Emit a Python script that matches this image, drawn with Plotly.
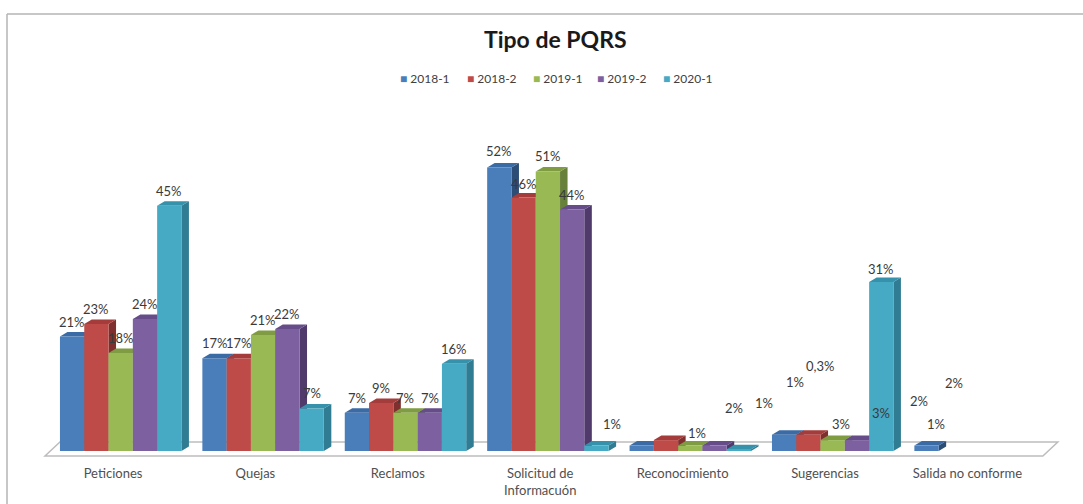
import plotly.graph_objects as go

categories = ["Peticiones", "Quejas", "Reclamos", "Solicitud de<br>Informacuón",
              "Reconocimiento", "Sugerencias", "Salida no conforme"]
series_names = ["2018-1", "2018-2", "2019-1", "2019-2", "2020-1"]
v_2018_1 = [21, 17, 7, 52, 1, 3, 1]
v_2018_2 = [23.3, 17, 8.8, 46.5, 2, 3, None]
v_2019_1 = [18, 21.3, 7, 51.3, 1, 2, None]
v_2019_2 = [24.2, 22.4, 7, 44.3, 1, 2, None]
v_2020_1 = [45, 7.8, 16, 1, 0.3, 31, None]
values = [v_2018_1, v_2018_2, v_2019_1, v_2019_2, v_2020_1]

l_2018_1 = ["21%", "17%", "7%", "52%", "1%", "3%", "1%"]
l_2018_2 = ["23%", "17%", "9%", "46%", "2%", "3%", None]
l_2019_1 = ["18%", "21%", "7%", "51%", "1%", "2%", None]
l_2019_2 = ["24%", "22%", "7%", "44%", "1%", "2%", None]
l_2020_1 = ["45%", "7%", "16%", "1%", "0,3%", "31%", None]
labels = [l_2018_1, l_2018_2, l_2019_1, l_2019_2, l_2020_1]

front = ["#4A7EBB", "#BE4B48", "#98B954", "#7D60A0", "#46AAC5"]
top_c = ["#3A6BA5", "#A33C3A", "#7F9C43", "#664D8A", "#3691AB"]
side_c = ["#2C4D75", "#7F2F2D", "#67803A", "#4F3A6B", "#2F7C93"]

W, H = 1083, 504
PX_X, PX_Y = 142.4, 5.45
L, R, T, B = 40, 1060, 20, 460
ZERO_X_PX, ZERO_Y_PX = 113, 451
xrange_ = [(L - ZERO_X_PX) / PX_X, (R - ZERO_X_PX) / PX_X]
yrange_ = [(ZERO_Y_PX - B) / PX_Y, (ZERO_Y_PX - T) / PX_Y]
GROUP_SHIFT = 0.054
BAR_W = 0.1706
DX, DY = 7.5 / PX_X, 4.5 / PX_Y

default_shift = (0, 15)
shifts = {
    (0, 3): (0, 17), (1, 3): (0, 14),
    (4, 3): (16, 22),
    (0, 4): (55, 13), (1, 4): (68, 32), (2, 4): (74, 43), (3, 4): (80, 64), (4, 4): (81, 83),
    (0, 5): (57, 11), (1, 5): (73, 22), (2, 5): (86, 39), (3, 5): (97, 57), (4, 5): (0, 13),
    (0, 6): (9, 22),
}
legend_px = [398, 465, 531, 595, 661]

fig = go.Figure()
xpos = list(range(len(categories)))

for j, vals in enumerate(values):
    sx, sy, tx, ty = [], [], [], []
    for i, v in enumerate(vals):
        if v is None:
            continue
        left = i + GROUP_SHIFT + (j - 2.5) * BAR_W
        right = left + BAR_W
        sx += [right, right + DX, right + DX, right, right, None]
        sy += [0, DY, v + DY, v, 0, None]
        tx += [left, left + DX, right + DX, right, left, None]
        ty += [v, v + DY, v + DY, v, v, None]
    for xs, ys, c in ((sx, sy, side_c[j]), (tx, ty, top_c[j])):
        fig.add_trace(go.Scatter(x=xs, y=ys, mode="lines", fill="toself", fillcolor=c,
                                 line=dict(width=0, color=c), showlegend=False,
                                 hoverinfo="skip", xaxis="x", yaxis="y"))

for j, vals in enumerate(values):
    fig.add_trace(go.Bar(x=[i + GROUP_SHIFT for i in xpos], y=vals, name=series_names[j],
                         marker=dict(color=front[j], line=dict(width=0)),
                         xaxis="x2", yaxis="y2", showlegend=False))

def pxx(p):
    return (p - L) / (R - L)
def pxy(p):
    return (B - p) / (B - T)

annotations = []
for j, row in enumerate(labels):
    for i, text in enumerate(row):
        if text is None:
            continue
        dx, dy = shifts.get((j, i), default_shift)
        annotations.append(dict(x=i + GROUP_SHIFT + (j - 2) * BAR_W, y=values[j][i], xref="x", yref="y",
                                text=text, showarrow=False, xshift=dx, yshift=dy,
                                xanchor="center", yanchor="middle",
                                font=dict(family="Lato", size=13, color="#3a3a3a")))
annotations.append(dict(x=pxx(555), y=pxy(39), xref="paper", yref="paper",
                        text="<b>Tipo de PQRS</b>", showarrow=False,
                        xanchor="center", yanchor="middle",
                        font=dict(family="Lato", size=23, color="#1a1a1a")))
for j, name in enumerate(series_names):
    annotations.append(dict(x=pxx(legend_px[j]), y=pxy(78), xref="paper", yref="paper",
                            text=f"<span style='color:{front[j]}'>■</span> {name}",
                            showarrow=False, xanchor="left", yanchor="middle",
                            font=dict(family="Lato", size=12, color="#404040")))

frame = dict(line=dict(color="#b5b5b5", width=1.5), type="line", xref="paper", yref="paper", layer="below")
shapes = [
    dict(type="path", xref="x", yref="y", layer="below", fillcolor="white",
         line=dict(color="#bdbdbd", width=1.5),
         path=f"M {-0.4775} {-0.92} L {6.53} {-0.92} L {6.635} {1.65} L {-0.3725} {1.65} Z"),
    dict(frame, x0=pxx(7), x1=pxx(7), y0=pxy(14), y1=pxy(504)),
    dict(frame, x0=pxx(7), x1=pxx(1083), y0=pxy(14), y1=pxy(14)),
]

axis_x = dict(range=xrange_, showgrid=False, zeroline=False, showline=False, ticks="", automargin=False,
              tickmode="array", tickvals=xpos, ticktext=categories,
              tickfont=dict(family="Lato", size=13, color="#505050"), ticklabelstandoff=4)
axis_y = dict(range=yrange_, showgrid=False, zeroline=False, showline=False, ticks="", showticklabels=False,
              automargin=False)

fig.update_layout(
    width=W, height=H, autosize=False,
    margin=dict(l=L, r=W - R, t=T, b=H - B, pad=0, autoexpand=False),
    paper_bgcolor="white", plot_bgcolor="white",
    barmode="group", bargap=0.147, bargroupgap=0,
    showlegend=False,
    xaxis=axis_x, yaxis=axis_y,
    xaxis2=dict(range=xrange_, overlaying="x", visible=False, automargin=False),
    yaxis2=dict(range=yrange_, overlaying="y", visible=False, automargin=False),
    annotations=annotations, shapes=shapes,
)
fig.write_html("out.html", config={"displayModeBar": False},
               post_script="document.body.style.margin='0';document.body.style.overflow='hidden';")
